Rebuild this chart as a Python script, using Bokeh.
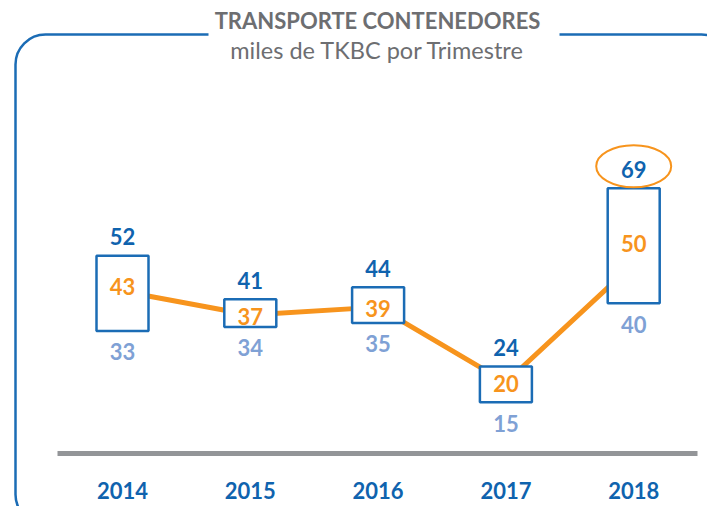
from bokeh.plotting import figure
from bokeh.models import BoxAnnotation, Label, Range1d, ColumnDataSource
from bokeh.core.properties import value
from bokeh.embed import file_html
from bokeh.resources import INLINE

# ---- data ----
years = ["2014", "2015", "2016", "2017", "2018"]
max_vals = [52, 41, 44, 24, 69]
avg_vals = [43, 37, 39, 20, 50]
min_vals = [33, 34, 35, 15, 40]

title_text = "TRANSPORTE CONTENEDORES"
subtitle_text = "miles de TKBC por Trimestre"

# ---- styling / layout ----
W, H = 707, 506
ORIGIN = 0
X0_PAGE = 122.0   # pixel x of first category
DX = 127.8        # px per category
Y0_PAGE = 461.1   # pixel y of value 0
DY = 3.961        # px per unit
TXT_FIX = -7      # baseline correction for text rendering


def px(page_x):
    return (page_x - X0_PAGE) / DX


def py(page_y):
    return (Y0_PAGE - page_y) / DY


BLUE = "#1b6cb5"
DARK_BLUE = "#0f63ae"
ORANGE = "#f7941d"
LIGHT_BLUE = "#7fa1d5"
GRAY_TXT = "#6d6e71"
GRAY_LINE = "#939598"
FONT = "Lato"

avg_nudge = [-6, 0, 0, 0, -21]  # px, label placement tweak

idx = list(range(len(years)))
half_w = 26 / DX

p = figure(width=W, height=H, output_backend="svg", toolbar_location=None,
           x_range=Range1d(px(ORIGIN), px(ORIGIN + W)),
           y_range=Range1d(py(ORIGIN + H), py(ORIGIN)),
           x_axis_location=None, y_axis_location=None,
           min_border=0, min_border_left=0, min_border_right=0,
           min_border_top=0, min_border_bottom=0)
p.grid.visible = False
p.outline_line_color = None
p.background_fill_color = "white"
p.border_fill_color = "white"

# baseline
p.segment(x0=[px(57)], y0=[py(453)], x1=[px(697)], y1=[py(453)],
          line_width=5, line_color=GRAY_LINE)

# average line
p.line(x=idx, y=avg_vals, line_width=5, line_color=ORANGE)

# range boxes
src = ColumnDataSource(dict(
    left=[i - half_w for i in idx], right=[i + half_w for i in idx],
    top=max_vals, bottom=min_vals))
p.quad(left="left", right="right", top="top", bottom="bottom", source=src,
       fill_color="white", line_color=BLUE, line_width=2.5)

# labels
num_style = dict(text_font=value(FONT), text_font_style="bold",
                 text_font_size="22px", text_align="center",
                 text_baseline="alphabetic")
p.text(x=idx, y=max_vals, text=[str(v) for v in max_vals],
       y_offset=-12 + TXT_FIX, text_color=DARK_BLUE, **num_style)
p.text(x=idx, y=min_vals, text=[str(v) for v in min_vals],
       y_offset=28 + TXT_FIX, text_color=LIGHT_BLUE, **num_style)
p.text(x=idx, y=avg_vals, text=[str(v) for v in avg_vals],
       y_offset=[8 + TXT_FIX + n for n in avg_nudge], text_color=ORANGE,
       **num_style)

# highlight ellipse around overall max
hi = max_vals.index(max(max_vals))
p.ellipse(x=[hi], y=[max_vals[hi] + 22 / DY], width=75, height=42,
          width_units="screen", height_units="screen",
          fill_color=None, line_color=ORANGE, line_width=2)

# year labels
p.text(x=idx, y=[py(497)] * len(idx), text=years, y_offset=TXT_FIX,
       text_color=DARK_BLUE, **num_style)

# rounded frame
frame = BoxAnnotation(left=px(15), right=px(731), top=py(34), bottom=py(524),
                      fill_color=None, fill_alpha=0, line_color=BLUE,
                      line_alpha=1, line_width=2.5, border_radius=30)
p.add_layout(frame)
gap = BoxAnnotation(left=px(208), right=px(559), top=py(28), bottom=py(41),
                    fill_color="white", fill_alpha=1, line_color=None)
p.add_layout(gap)

p.add_layout(Label(x=px(377), y=py(27 + TXT_FIX), text=title_text,
                   text_font=FONT, text_font_style="bold",
                   text_font_size="22px", text_color=GRAY_TXT,
                   text_align="center", text_baseline="alphabetic"))
p.add_layout(Label(x=px(377), y=py(56 + TXT_FIX), text=subtitle_text,
                   text_font=FONT, text_font_size="23.5px",
                   text_color=GRAY_TXT, text_align="center",
                   text_baseline="alphabetic"))

open("out.html", "w").write(file_html(p, INLINE))
